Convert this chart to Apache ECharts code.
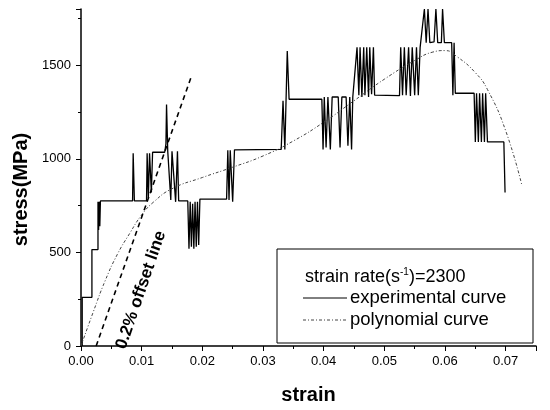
<!DOCTYPE html>
<html>
<head>
<meta charset="utf-8">
<script src="https://cdn.jsdelivr.net/npm/echarts@6/dist/echarts.min.js"></script>
<style>
  html, body { margin: 0; padding: 0; background: #fff; }
  #main { width: 550px; height: 410px; }
</style>
</head>
<body>
<div id="main"></div>
<script>
// experimental curve (stepped)
var expStrain = [0.0002, 0.0002, 0.0018, 0.0018, 0.0028, 0.0028, 0.0029, 0.0030, 0.0031, 0.0032,
  0.0085, 0.0086, 0.0088, 0.0108, 0.0109, 0.0111, 0.0113, 0.0116, 0.0118, 0.0138,
  0.0140, 0.0141, 0.0143, 0.0146, 0.0148, 0.0150, 0.0153, 0.0156, 0.0159, 0.0161,
  0.0176, 0.0178, 0.0180, 0.0182, 0.0184, 0.0186, 0.0188, 0.0190, 0.0192, 0.0194,
  0.0196, 0.0240, 0.0242, 0.0244, 0.0246, 0.0248, 0.0250, 0.0253, 0.0330, 0.0333,
  0.0336, 0.0340, 0.0343, 0.0397, 0.0399, 0.0401, 0.0404, 0.0407, 0.0411, 0.0414,
  0.0416, 0.0424, 0.0427, 0.0430, 0.0437, 0.0440, 0.0443, 0.0446, 0.0448, 0.0451,
  0.0455, 0.0458, 0.0460, 0.0463, 0.0466, 0.0468, 0.0471, 0.0474, 0.0476, 0.0479,
  0.0482, 0.0484, 0.0486, 0.0525, 0.0527, 0.0530, 0.0533, 0.0536, 0.0540, 0.0543,
  0.0546, 0.0550, 0.0553, 0.0556, 0.0559, 0.0562, 0.0566, 0.0569, 0.0572, 0.0575,
  0.0582, 0.0585, 0.0588, 0.0594, 0.0596, 0.0599, 0.0611, 0.0613, 0.0615, 0.0617,
  0.0648, 0.0650, 0.0652, 0.0655, 0.0657, 0.0660, 0.0662, 0.0665, 0.0667, 0.0670,
  0.0697, 0.0699];
var expStress = [0, 260, 260, 515, 515, 770, 620, 770, 640, 775,
  775, 1030, 775, 775, 1030, 790, 1030, 820, 1035, 1035,
  1080, 1290, 1040, 1040, 780, 1040, 1040, 770, 1040, 775,
  775, 520, 770, 530, 760, 520, 770, 530, 770, 540,
  785, 785, 1045, 780, 1045, 1045, 770, 1048, 1050, 1310,
  1050, 1575, 1318, 1318, 1050, 1330, 1060, 1330, 1050, 1330,
  1330, 1330, 1060, 1330, 1330, 1070, 1330, 1050, 1330, 1330,
  1595, 1340, 1595, 1330, 1595, 1340, 1595, 1330, 1595, 1345,
  1595, 1340, 1337, 1337, 1595, 1340, 1595, 1340, 1595, 1335,
  1595, 1340, 1595, 1340, 1595, 1600, 1800, 1620, 1800, 1620,
  1625, 1800, 1620, 1620, 1800, 1620, 1620, 1340, 1620, 1350,
  1350, 1090, 1350, 1090, 1350, 1090, 1350, 1090, 1350, 1090,
  1090, 820];

// polynomial fit
var polyStrain = [0, 0.002, 0.004, 0.006, 0.008, 0.010, 0.012, 0.015, 0.020, 0.025,
  0.030, 0.035, 0.040, 0.045, 0.050, 0.055, 0.058, 0.060, 0.062, 0.065, 0.067, 0.070, 0.0727];
var polyStress = [0, 180, 350, 490, 600, 700, 770, 840, 900, 955,
  1015, 1095, 1195, 1310, 1425, 1525, 1570, 1578, 1545, 1460, 1370, 1150, 855];

// 0.2% offset line
var offStrain = [0.0025, 0.0183];
var offStress = [0, 1450];

function pairs(xs, ys) {
  return xs.map(function (v, i) { return [v, ys[i]]; });
}

var font = '"Liberation Sans", Arial, sans-serif';
var myChart = echarts.init(document.getElementById('main'));

var option = {
  animation: false,
  backgroundColor: '#fff',
  grid: { left: 81, right: 14, top: 9, bottom: 59 },
  xAxis: {
    type: 'value',
    min: 0, max: 0.075, interval: 0.01,
    name: 'strain',
    nameLocation: 'middle',
    nameGap: 39,
    nameTextStyle: { fontFamily: font, fontSize: 20, fontWeight: 'bold', color: '#000' },
    axisLine: { lineStyle: { color: '#000', width: 1.5 } },
    axisTick: { lineStyle: { color: '#000' }, length: 5 },
    minorTick: { show: true, splitNumber: 2, length: 3, lineStyle: { color: '#000' } },
    splitLine: { show: false },
    axisLabel: {
      showMaxLabel: false, margin: 9,
      fontFamily: font, fontSize: 13, color: '#000',
      formatter: function (v) { return v.toFixed(2); }
    }
  },
  yAxis: {
    type: 'value',
    min: 0, max: 1800, interval: 500,
    name: 'stress(MPa)',
    nameLocation: 'middle',
    nameGap: 48,
    nameTextStyle: { fontFamily: font, fontSize: 20, fontWeight: 'bold', color: '#000', padding: [0, 24, 0, 0] },
    axisLine: { show: true, lineStyle: { color: '#000', width: 1.5 } },
    axisTick: { show: true, lineStyle: { color: '#000' }, length: 5 },
    minorTick: { show: true, splitNumber: 2, length: 3, lineStyle: { color: '#000' } },
    splitLine: { show: false },
    axisLabel: {
      showMaxLabel: false, margin: 10, fontFamily: font, fontSize: 13, color: '#000',
      formatter: function (v) { return String(v); }
    }
  },
  series: [
    {
      name: 'experimental curve',
      type: 'line',
      data: pairs(expStrain, expStress),
      showSymbol: false,
      lineStyle: { color: '#000', width: 1.3 }
    },
    {
      name: 'polynomial curve',
      type: 'line',
      data: pairs(polyStrain, polyStress),
      smooth: true,
      showSymbol: false,
      lineStyle: { color: '#444', width: 1, type: [3, 2, 1, 2] }
    },
    {
      name: '0.2% offset line',
      type: 'line',
      data: pairs(offStrain, offStress),
      showSymbol: false,
      lineStyle: { color: '#000', width: 1.6, type: [5, 4] }
    }
  ],
  graphic: [
    {
      type: 'text',
      x: 141, y: 290,
      rotation: 71 * Math.PI / 180,
      style: {
        text: '0.2% offset line',
        font: 'bold 17px ' + font,
        fill: '#000',
        align: 'center',
        verticalAlign: 'middle'
      }
    },
    {
      type: 'rect',
      shape: { x: 277, y: 249, width: 256, height: 94 },
      style: { fill: '#fff', stroke: '#000', lineWidth: 1 }
    },
    {
      type: 'text',
      x: 305, y: 277,
      style: {
        text: 'strain rate(s{sup|-1})=2300',
        font: '18px ' + font,
        fill: '#000',
        verticalAlign: 'middle',
        rich: {
          sup: { fontSize: 10, fontFamily: font, fill: '#000', padding: [0, 0, 9, 0] }
        }
      }
    },
    {
      type: 'line',
      shape: { x1: 303, y1: 298, x2: 347, y2: 298 },
      style: { stroke: '#000', lineWidth: 1 }
    },
    {
      type: 'text',
      x: 350, y: 298,
      style: { text: 'experimental curve', font: '18.5px ' + font, fill: '#000', verticalAlign: 'middle' }
    },
    {
      type: 'line',
      shape: { x1: 303, y1: 320, x2: 347, y2: 320 },
      style: { stroke: '#444', lineWidth: 1, lineDash: [3, 2, 1, 2] }
    },
    {
      type: 'text',
      x: 350, y: 320,
      style: { text: 'polynomial curve', font: '18.5px ' + font, fill: '#000', verticalAlign: 'middle' }
    }
  ]
};

myChart.setOption(option);
</script>
</body>
</html>
